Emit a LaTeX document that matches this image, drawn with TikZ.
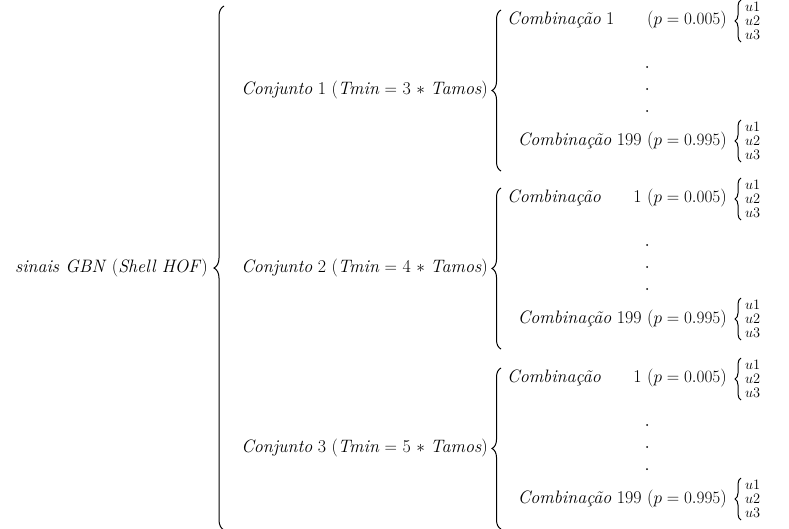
\documentclass[tikz,border=0pt]{standalone}
\usetikzlibrary{decorations.pathreplacing}
\begin{document}
\begin{tikzpicture}[x=1pt,y=-1pt,
  txt/.style={inner sep=0pt, font=\fontsize{18}{21}\selectfont},
  utxt/.style={inner sep=0pt, anchor=west, font=\fontsize{14}{15}\selectfont},
  brc/.style={decorate, decoration={brace, amplitude=#1}, line width=1pt},
  dotn/.style={circle, fill=black, inner sep=0pt, minimum size=2pt},
]
\useasboundingbox (0,0) rectangle (789,528);
\node[txt, anchor=east] (root) at (208,268) {\textit{sinais GBN} (\textit{Shell HOF})};
\coordinate (rt) at (224,6);
\coordinate (rb) at (224,530);
\draw[brc=10] (rb) -- (rt);
\foreach \i/\c/\t in {1/90/3, 2/268/4, 3/448/5}{
  \node[txt, anchor=east] (g\i) at (488,\c) {\textit{Conjunto} \i\ (\textit{Tmin} $=$ \t\ $*$ \textit{Tamos})};
  \coordinate (gt\i) at (501,\c-80);
  \coordinate (gb\i) at (501,\c+81);
  \draw[brc=9] (gb\i) -- (gt\i);
  % first row
  \ifnum\i=1
    \node[txt, anchor=west] (a\i) at (507,\c-70) {\textit{Combinação} 1};
    \node[txt, anchor=east] (p\i) at (727,\c-70) {($p = 0.005$)};
  \else
    \node[txt, anchor=west] (a\i) at (507,\c-70) {\textit{Combinação}};
    \node[txt, anchor=east] (p\i) at (727,\c-70) {1 ($p = 0.005$)};
  \fi
  \coordinate (st\i) at (741,\c-90);
  \coordinate (sb\i) at (741,\c-48);
  \draw[brc=6] (sb\i) -- (st\i);
  \node[utxt] (ua\i) at (745,\c-83) {$u1$};
  \node[utxt] (ub\i) at (745,\c-69) {$u2$};
  \node[utxt] (uc\i) at (745,\c-55) {$u3$};
  % dots
  \node[dotn] (d1\i) at (647,\c-23) {};
  \node[dotn] (d2\i) at (647,\c-1) {};
  \node[dotn] (d3\i) at (647,\c+21) {};
  % last row
  \node[txt, anchor=east] (z\i) at (727,\c+51) {\textit{Combinação} 199 ($p = 0.995$)};
  \coordinate (tt\i) at (741,\c+30);
  \coordinate (tb\i) at (741,\c+72);
  \draw[brc=6] (tb\i) -- (tt\i);
  \node[utxt] (va\i) at (745,\c+37) {$u1$};
  \node[utxt] (vb\i) at (745,\c+51) {$u2$};
  \node[utxt] (vc\i) at (745,\c+65) {$u3$};
}
\end{tikzpicture}
\end{document}
